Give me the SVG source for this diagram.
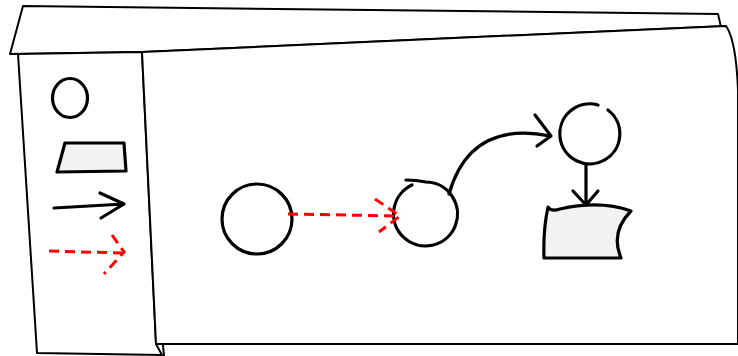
<svg xmlns="http://www.w3.org/2000/svg" width="738" height="356" viewBox="0 0 738 356">
<style>
.pn{fill:#fff;stroke:#000;stroke-width:2;stroke-linejoin:round}
.sh{fill:none;stroke:#000;stroke-width:3.2;stroke-linecap:round;stroke-linejoin:round}
.gf{fill:#f2f2f2}
.rd{fill:none;stroke:#ff0000;stroke-width:3;stroke-dasharray:10 6}
</style>
<g id="back-panel">
<path class="pn" d="M23,6 L718,14 L721,27 L726,26 L142,52 L10,54 Z"/>
<path class="pn" d="M18,54 L37,353 L162,355 L156,344 L142,52 Z"/>
<path class="pn" d="M163,345 L164,356" />
</g>
<g id="front-panel">
<path class="pn" d="M142,52 L726,26 Q736,40 738,90 L738,344 L156,344 Z"/>
</g>
<g id="palette">
<g id="pal-circle"><ellipse class="sh" cx="70" cy="98" rx="17.5" ry="19.5"/></g>
<g id="pal-rect"><path class="sh gf" d="M65,143 L124,143 L126,171 L57,172 Z"/></g>
<g id="pal-arrow"><path class="sh" d="M54,208 L124,204 M100,193 L124,204 L101,218"/></g>
<g id="pal-dashed"><path class="rd" d="M49,251 L122,253"/><path class="rd" d="M112,235 L124,252 L104,274" stroke-dasharray="8 5"/></g>
</g>
<g id="node-1"><circle class="sh" cx="257" cy="219" r="35"/></g>
<g id="node-2"><path class="sh" d="M406,180 Q416,180 426,182 A32,32 0 1 1 412,185"/></g>
<g id="node-3"><path class="sh" d="M598,105 A30,30 0 1 0 608,110"/></g>
<g id="node-4"><path class="sh gf" d="M548,207 Q551,212 560,209 Q600,200 631,211 Q610,232 621,258 L544,258 Q543,230 548,207 Z"/></g>
<g id="connectors">
<path class="rd" d="M288,214 L398,216"/>
<path class="rd" d="M375,199 L400,216 L379,232" stroke-dasharray="8 5"/>
<path class="sh" d="M449,194 Q470,120 550,136"/>
<path class="sh" d="M535,115 L551,136 L537,146"/>
<path class="sh" d="M586,165 L586,205 M573,191 L586,205 L598,191"/>
</g>
</svg>
